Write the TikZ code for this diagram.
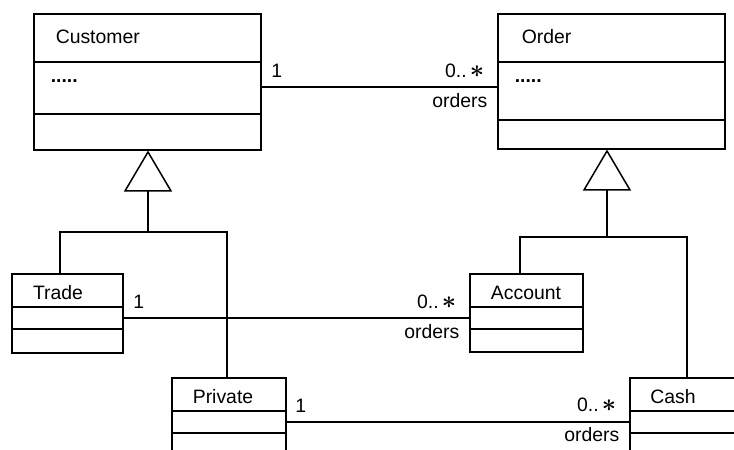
\documentclass[tikz,border=0pt]{standalone}
\usepackage{amsmath}
\usepackage{fontspec}
\setmainfont{Liberation Sans}
\usetikzlibrary{arrows.meta, calc}

\tikzset{
  umlclass/.style={draw, anchor=north west, inner sep=0pt},
  umltext/.style={inner sep=0pt},
  gen/.style={-{Triangle[open, length=41pt, width=48pt]}},
  mult/.style={inner sep=0pt}
}
\newcommand{\many}{0..\,{\fontsize{24}{24}\selectfont$\boldsymbol{\ast}$}}

\begin{document}
\begin{tikzpicture}[x=1pt, y=-1pt, line width=1.5pt, font=\fontsize{19.4}{23}\selectfont]
\useasboundingbox (0,0) rectangle (734,450);
\clip (0,0) rectangle (734,450);
% classes
\node[umlclass, minimum width=227pt, minimum height=136pt] (customer) at (33,13) {};
\node[umlclass, minimum width=227pt, minimum height=135pt] (order) at (497,13) {};
\node[umlclass, minimum width=111pt, minimum height=79pt] (trade) at (11,273) {};
\node[umlclass, minimum width=113pt, minimum height=78pt] (account) at (469,273) {};
\node[umlclass, minimum width=114pt, minimum height=110pt] (private) at (171,377) {};
\node[umlclass, minimum width=140pt, minimum height=110pt] (cash) at (629,377) {};
% compartments
\draw ($(customer.north west)+(0,49)$) -- ($(customer.north east)+(0,49)$);
\draw ($(customer.north west)+(0,101)$) -- ($(customer.north east)+(0,101)$);
\draw ($(order.north west)+(0,49)$) -- ($(order.north east)+(0,49)$);
\draw ($(order.north west)+(0,107)$) -- ($(order.north east)+(0,107)$);
\draw ($(trade.north west)+(0,34)$) -- ($(trade.north east)+(0,34)$);
\draw ($(trade.north west)+(0,56)$) -- ($(trade.north east)+(0,56)$);
\draw ($(account.north west)+(0,34)$) -- ($(account.north east)+(0,34)$);
\draw ($(account.north west)+(0,56)$) -- ($(account.north east)+(0,56)$);
\draw ($(private.north west)+(0,34)$) -- ($(private.north east)+(0,34)$);
\draw ($(private.north west)+(0,56)$) -- ($(private.north east)+(0,56)$);
\draw ($(cash.north west)+(0,34)$) -- ($(cash.north east)+(0,34)$);
\draw ($(cash.north west)+(0,56)$) -- ($(cash.north east)+(0,56)$);
% names
\node[umltext, anchor=base west] (customername) at (55,43) {Customer};
\node[umltext, anchor=base west] (customerattr) at (50,82) {\textbf{.....}};
\node[umltext, anchor=base west] (ordername) at (521,43) {Order};
\node[umltext, anchor=base west] (orderattr) at (514,82) {\textbf{.....}};
\node[umltext, anchor=base] (tradename) at (58,299) {Trade};
\node[umltext, anchor=base] (accountname) at (526,299) {Account};
\node[umltext, anchor=base] (privatename) at (223,403) {Private};
\node[umltext, anchor=base] (cashname) at (673,403) {Cash};
% associations
\draw ($(customer.north east)+(0,74)$) -- ($(order.north west)+(0,74)$)
  node[pos=0, mult, anchor=base west, xshift=9pt, yshift=10pt] (custone) {1}
  node[pos=1, mult, anchor=base east, xshift=-12pt, yshift=10pt] (custmany) {\many}
  node[pos=1, mult, anchor=base east, xshift=-9pt, yshift=-20pt] (custrole) {orders};
\draw ($(trade.north east)+(0,45)$) -- ($(account.north west)+(0,45)$)
  node[pos=0, mult, anchor=base west, xshift=9pt, yshift=10pt] (tradeone) {1}
  node[pos=1, mult, anchor=base east, xshift=-12pt, yshift=10pt] (trademany) {\many}
  node[pos=1, mult, anchor=base east, xshift=-9pt, yshift=-20pt] (traderole) {orders};
\draw ($(private.north east)+(0,45)$) -- ($(cash.north west)+(0,45)$)
  node[pos=0, mult, anchor=base west, xshift=8pt, yshift=10pt] (privone) {1}
  node[pos=1, mult, anchor=base east, xshift=-12pt, yshift=11pt] (privmany) {\many}
  node[pos=1, mult, anchor=base east, xshift=-9pt, yshift=-19pt] (privrole) {orders};
% generalizations
\coordinate (custjoin) at (148,232);
\coordinate (ordjoin) at (607,237);
\draw[gen] (custjoin) -- (customer.south -| custjoin);
\draw ($(trade.north west)+(49,0)$) |- (custjoin) -| ($(private.north west)+(56,0)$);
\draw[gen] (ordjoin) -- (order.south -| ordjoin);
\draw ($(account.north west)+(51,0)$) |- (ordjoin) -| ($(cash.north west)+(58,0)$);
\end{tikzpicture}
\end{document}
